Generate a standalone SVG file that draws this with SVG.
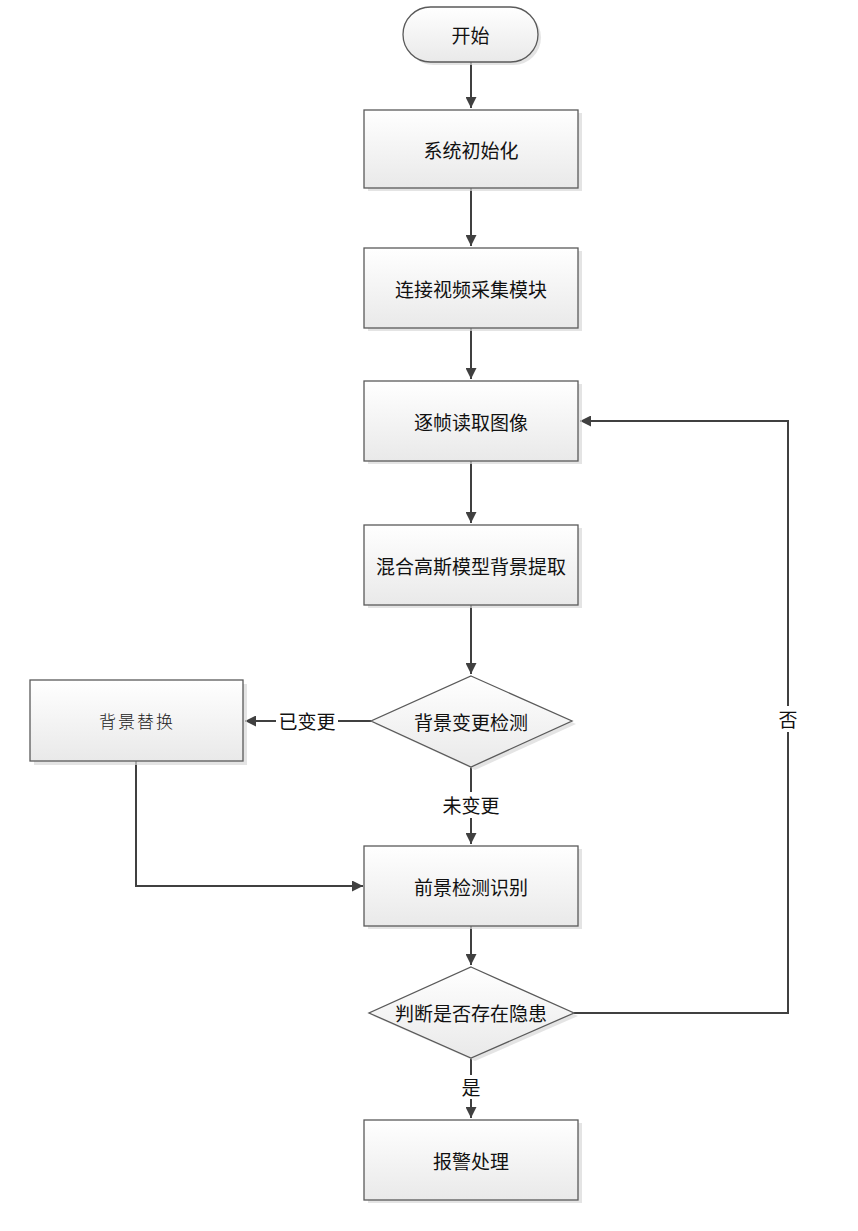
<svg xmlns="http://www.w3.org/2000/svg" width="858" height="1231" viewBox="0 0 858 1231">
<style>
.box{fill:url(#g);stroke:#5a5a5a;stroke-width:1.3}
.sh{fill:#d9d9d9;opacity:0.7}
.t{font-family:"Noto Sans CJK SC","Microsoft YaHei",sans-serif;font-size:19px;fill:#111;text-anchor:middle;dominant-baseline:central}
.ts{font-family:"Noto Sans CJK SC",serif;font-size:17px;font-weight:300;fill:#222;text-anchor:middle;dominant-baseline:central;letter-spacing:2px}
.ln{fill:none;stroke:#404040;stroke-width:2}
.lb{fill:#fff}
</style>
<defs>
<linearGradient id="g" x1="0" y1="0" x2="0" y2="1">
<stop offset="0" stop-color="#ffffff"/>
<stop offset="1" stop-color="#e9e9e9"/>
</linearGradient>
<marker id="a" viewBox="0 0 10 10" refX="10" refY="5" markerWidth="11" markerHeight="11" markerUnits="userSpaceOnUse" orient="auto">
<path d="M0,0 L10,5 L0,10 z" fill="#404040"/>
</marker>
</defs>
<g id="connectors">
<path class="ln" d="M471,62 V108" marker-end="url(#a)"/>
<path class="ln" d="M471,188 V246" marker-end="url(#a)"/>
<path class="ln" d="M471,328 V379" marker-end="url(#a)"/>
<path class="ln" d="M471,461 V523" marker-end="url(#a)"/>
<path class="ln" d="M471,605 V674" marker-end="url(#a)"/>
<path class="ln" d="M371,721 H245" marker-end="url(#a)"/>
<path class="ln" d="M471,767 V844" marker-end="url(#a)"/>
<path class="ln" d="M136,761 V886 H363" marker-end="url(#a)"/>
<path class="ln" d="M471,926 V965" marker-end="url(#a)"/>
<path class="ln" d="M471,1058 V1118" marker-end="url(#a)"/>
<path class="ln" d="M574,1013 H788 V421 H580" marker-end="url(#a)"/>
<rect class="lb" x="276" y="708" width="62" height="26"/>
<text class="t" x="307" y="720">已变更</text>
<rect class="lb" x="440" y="792" width="62" height="26"/>
<text class="t" x="471" y="804">未变更</text>
<rect class="lb" x="459" y="1075" width="24" height="24"/>
<text class="t" x="471" y="1086">是</text>
<rect class="lb" x="776" y="706" width="24" height="26"/>
<text class="t" x="788" y="718">否</text>
</g>
<g id="start">
<rect class="sh" x="406" y="10" width="135" height="55" rx="27.5"/>
<rect class="box" x="403" y="7" width="135" height="55" rx="27.5"/>
<text class="t" x="470.5" y="34">开始</text>
</g>
<g id="init">
<rect class="sh" x="368" y="113" width="214" height="78"/>
<rect class="box" x="364" y="110" width="214" height="78"/>
<text class="t" x="471" y="149">系统初始化</text>
</g>
<g id="connect">
<rect class="sh" x="368" y="251" width="214" height="80"/>
<rect class="box" x="364" y="248" width="214" height="80"/>
<text class="t" x="471" y="288">连接视频采集模块</text>
</g>
<g id="read">
<rect class="sh" x="368" y="384" width="214" height="80"/>
<rect class="box" x="364" y="381" width="214" height="80"/>
<text class="t" x="471" y="421">逐帧读取图像</text>
</g>
<g id="gmm">
<rect class="sh" x="368" y="528" width="214" height="80"/>
<rect class="box" x="364" y="525" width="214" height="80"/>
<text class="t" x="471" y="565">混合高斯模型背景提取</text>
</g>
<g id="bgchange">
<polygon class="sh" points="475,679 576,724 475,770 375,724"/>
<polygon class="box" points="471,676 572,721 471,767 371,721"/>
<text class="t" x="471" y="721">背景变更检测</text>
</g>
<g id="bgreplace">
<rect class="sh" x="34" y="684" width="213" height="81"/>
<rect class="box" x="30" y="680" width="213" height="81"/>
<text class="ts" x="137" y="720">背景替换</text>
</g>
<g id="detect">
<rect class="sh" x="368" y="849" width="214" height="80"/>
<rect class="box" x="364" y="846" width="214" height="80"/>
<text class="t" x="471" y="886">前景检测识别</text>
</g>
<g id="hazard">
<polygon class="sh" points="475,970 578,1016 475,1061 373,1016"/>
<polygon class="box" points="471,967 574,1013 471,1058 369,1013"/>
<text class="t" x="471" y="1012">判断是否存在隐患</text>
</g>
<g id="alarm">
<rect class="sh" x="368" y="1123" width="214" height="80"/>
<rect class="box" x="364" y="1120" width="214" height="80"/>
<text class="t" x="471" y="1160">报警处理</text>
</g>
</svg>
